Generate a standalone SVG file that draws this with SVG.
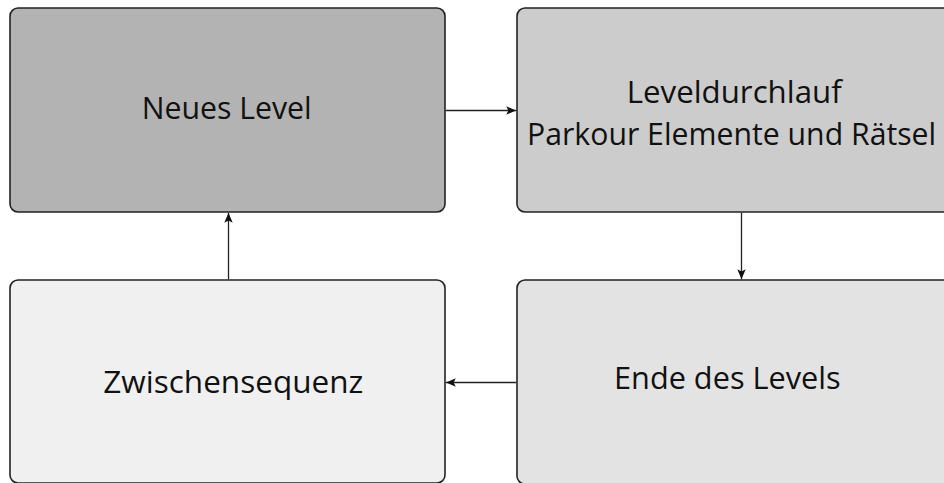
<svg xmlns="http://www.w3.org/2000/svg" width="944" height="483" viewBox="0 0 944 483">
<style>
.box{stroke:#222;stroke-width:1.6}
.lbl{font-family:"Open Sans","Liberation Sans",sans-serif;font-size:31px;fill:#111}
.con{stroke:#222;stroke-width:1.3;fill:none;marker-end:url(#ah)}
</style>
<defs>
<marker id="ah" viewBox="0 0 10 10" refX="10" refY="5" markerWidth="10" markerHeight="10" markerUnits="userSpaceOnUse" orient="auto">
<path d="M0,0.8 L10,5 L0,9.2 L2.2,5 Z" fill="#111"/>
</marker>
</defs>
<rect width="944" height="483" fill="#fff"/>
<g id="node-neues-level">
<rect class="box" x="10" y="8" width="435" height="204" rx="8" fill="#b3b3b3"/>
<text class="lbl" x="141.7" y="119.3" textLength="170" lengthAdjust="spacingAndGlyphs">Neues Level</text>
</g>
<g id="node-leveldurchlauf">
<rect class="box" x="517" y="8" width="435" height="204" rx="8" fill="#cccccc"/>
<text class="lbl" x="626.7" y="103.3" textLength="215" lengthAdjust="spacingAndGlyphs">Leveldurchlauf</text>
<text class="lbl" transform="translate(527,145) scale(0.975,1)" x="0" y="0">Parkour Elemente und Rätsel</text>
</g>
<g id="node-ende">
<rect class="box" x="517" y="280" width="435" height="204" rx="8" fill="#e3e3e3"/>
<text class="lbl" x="614" y="389" textLength="226.7" lengthAdjust="spacingAndGlyphs">Ende des Levels</text>
</g>
<g id="node-zwischensequenz">
<rect class="box" x="10" y="280" width="435" height="203" rx="8" fill="#f0f0f0"/>
<text class="lbl" x="103.3" y="392.7" textLength="260" lengthAdjust="spacingAndGlyphs">Zwischensequenz</text>
</g>
<g id="connectors">
<line class="con" x1="445.8" y1="110.5" x2="516.2" y2="110.5"/>
<line class="con" x1="741.5" y1="212.8" x2="741.5" y2="279.2"/>
<line class="con" x1="516.2" y1="382.5" x2="445.8" y2="382.5"/>
<line class="con" x1="228.5" y1="279.2" x2="228.5" y2="212.8"/>
</g>
</svg>
